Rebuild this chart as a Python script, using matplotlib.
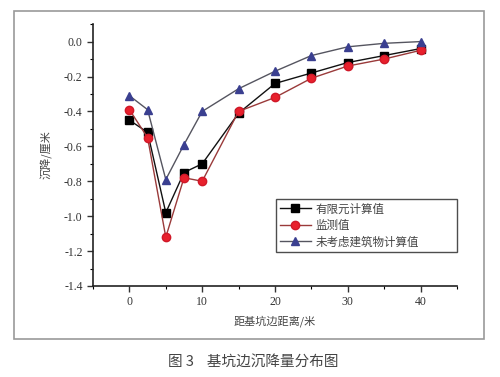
import numpy as np
import matplotlib.pyplot as plt
from matplotlib.patches import Rectangle

plt.rcParams['axes.unicode_minus'] = False

dist = [0, 2.5, 5, 7.5, 10, 15, 20, 25, 30, 35, 40]
fem = [-0.45, -0.52, -0.98, -0.75, -0.70, -0.41, -0.24, -0.18, -0.12, -0.08, -0.04]
monitor = [-0.39, -0.55, -1.12, -0.78, -0.80, -0.40, -0.32, -0.21, -0.14, -0.10, -0.05]
no_bldg = [-0.31, -0.39, -0.79, -0.59, -0.40, -0.27, -0.17, -0.08, -0.03, -0.01, 0.00]
labels = ['有限元计算值', '监测值', '未考虑建筑物计算值']

cjk = ['Noto Sans CJK SC', 'DejaVu Sans']
serif = ['Liberation Serif', 'DejaVu Serif']

fig = plt.figure(figsize=(5, 3.77), dpi=100)
ax = fig.add_axes([0.186, 0.2414, 0.728, 0.6946])

ax.plot(dist, fem, color='#111111', lw=1, marker='s', ms=5.5, mfc='#000000', mec='#000000', label=labels[0])
ax.plot(dist, monitor, color='#9a3a3a', lw=1, marker='o', ms=6, mfc='#e8202c', mec='#d01828', label=labels[1])
ax.plot(dist, no_bldg, color='#555560', lw=1, marker='^', ms=6, mfc='#3a3f90', mec='#3a3f90', label=labels[2])

ax.set_xlim(-5, 45)
ax.set_ylim(-1.4, 0.1)
ax.set_xticks([0, 10, 20, 30, 40])
ax.set_xticks(np.arange(-5, 46, 5), minor=True)
yt = np.round(np.arange(-1.4, 0.01, 0.2), 1)
ax.set_yticks(yt)
ax.set_yticks(np.arange(-1.4, 0.11, 0.1), minor=True)
ax.set_yticklabels(['%.1f' % (v + 0.0) for v in yt])
ax.tick_params(direction='out', length=4, width=1, labelsize=8.5, colors='#333333')
ax.tick_params(which='minor', direction='out', length=2.5, width=0.8)
for t in ax.get_xticklabels() + ax.get_yticklabels():
    t.set_fontfamily(serif)
for s in ['top', 'right']:
    ax.spines[s].set_visible(False)
for s in ['left', 'bottom']:
    ax.spines[s].set_linewidth(1.2)
    ax.spines[s].set_color('#222222')

ax.set_ylabel('沉降/厘米', family=cjk, fontsize=8, color='#444444', labelpad=8)
ax.set_xlabel('距基坑边距离/米', family=cjk, fontsize=8, color='#444444', labelpad=5)

leg = ax.legend(loc='upper left', bbox_to_anchor=(0.503, 0.13, 0.497, 0.202), mode='expand',
                borderaxespad=0, prop={'family': cjk, 'size': 8.3}, fancybox=False, frameon=True,
                handlelength=2.7, handletextpad=0.4, labelspacing=0.3, borderpad=0.3)
leg.get_frame().set_edgecolor('#222222')
leg.get_frame().set_linewidth(1)
for t in leg.get_texts():
    t.set_color('#444444')

fig.patches.append(Rectangle((14 / 500, 1 - 339 / 377), 470 / 500, 328 / 377,
                             transform=fig.transFigure, fill=False, ec='#999999', lw=1.2))
fig.text(0.506, 1 - 363 / 377, '图 3    基坑边沉降量分布图', family=cjk, fontsize=10.5,
         color='#444444', ha='center', va='center')

fig.savefig('out.png', dpi=100)
